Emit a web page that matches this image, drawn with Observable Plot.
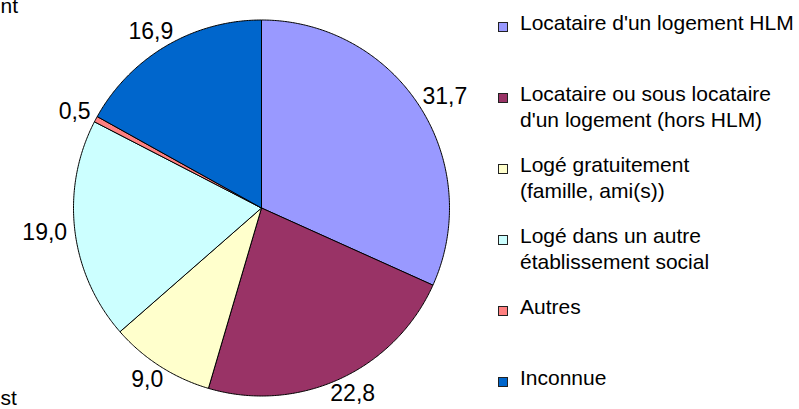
<!DOCTYPE html>
<html>
<head>
<meta charset="utf-8">
<script src="https://cdn.jsdelivr.net/npm/d3@7"></script>
<script src="https://cdn.jsdelivr.net/npm/@observablehq/plot@0.6"></script>
<style>
  html, body { margin: 0; padding: 0; background: #fff; }
  #wrap { position: relative; width: 799px; height: 409px; overflow: hidden; font-family: "Liberation Sans", Arial, sans-serif; }
  #chart { position: absolute; left: 0; top: 0; }
  #legend { position: absolute; left: 497px; top: 10px; }
  .item { height: 71px; position: relative; padding-left: 23px; }
  .item .sw { position: absolute; left: 1px; top: 12px; width: 8px; height: 8px; border: 1px solid #222; }
  .item .tx { font-size: 21px; line-height: 26px; color: #000; white-space: nowrap; }
</style>
</head>
<body>
<div id="wrap"><div id="chart"></div><div id="legend"></div></div>
<script>
// ---- data ----
const categories = [
  "Locataire d'un logement HLM",
  "Locataire ou sous locataire d'un logement (hors HLM)",
  "Logé gratuitement (famille, ami(s))",
  "Logé dans un autre établissement social",
  "Autres",
  "Inconnue"
];
const legendLines = [
  ["Locataire d'un logement HLM"],
  ["Locataire ou sous locataire", "d'un logement (hors HLM)"],
  ["Logé gratuitement", "(famille, ami(s))"],
  ["Logé dans un autre", "établissement social"],
  ["Autres"],
  ["Inconnue"]
];
const values = [31.7, 22.8, 9.0, 19.0, 0.5, 16.9];
const colors = ["#9999FF", "#993366", "#FFFFCC", "#CCFFFF", "#FF8080", "#0066CC"];
const cutTexts = ["nt", "st"];

// ---- layout ----
const W = 799, H = 409;
const cx = 261, cy = 207.5, R = 188;
const labelFont = 23, labelGap = 8;

const fmt = v => v.toFixed(1).replace(".", ",");
const arcs = d3.pie().sort(null).value(d => d)(values);
const pt = (a, r) => [cx + r * Math.sin(a), cy - r * Math.cos(a)];

const sliceRows = [];
arcs.forEach((a, i) => {
  const cat = categories[i];
  sliceRows.push({cat, x: cx, y: cy});
  const n = Math.max(2, Math.ceil((a.endAngle - a.startAngle) / (Math.PI / 360)));
  for (let k = 0; k <= n; k++) {
    const ang = a.startAngle + (a.endAngle - a.startAngle) * k / n;
    const [x, y] = pt(ang, R);
    sliceRows.push({cat, x, y});
  }
  sliceRows.push({cat, x: cx, y: cy});
});

const labelRows = arcs.map((a, i) => {
  const mid = (a.startAngle + a.endAngle) / 2;
  const ux = Math.sin(mid), uy = -Math.cos(mid);
  const text = fmt(values[i]);
  const w = (text.length - 1) * 0.556 * labelFont + 0.278 * labelFont;
  const h = 0.72 * labelFont;
  return {
    text,
    x: cx + (R + labelGap) * ux + ux * w / 2,
    y: cy + (R + labelGap) * uy + uy * h / 2
  };
});

const chart = Plot.plot({
  width: W, height: H,
  margin: 0,
  x: {domain: [0, W], range: [0, W], axis: null},
  y: {domain: [0, H], range: [0, H], axis: null},
  color: {domain: categories, range: colors},
  style: {fontFamily: "'Liberation Sans', Arial, sans-serif", background: "white"},
  marks: [
    Plot.line(sliceRows, {x: "x", y: "y", z: "cat", fill: "cat", stroke: "#000", strokeWidth: 1, strokeLinejoin: "round", curve: "linear"}),
    Plot.text(labelRows, {x: "x", y: "y", text: "text", fontSize: labelFont, fill: "#000", textAnchor: "middle", lineAnchor: "middle"}),
    Plot.text([cutTexts[0]], {frameAnchor: "top-left", text: d => d, fontSize: 21, textAnchor: "start", lineAnchor: "middle", dy: 6, fill: "#000"}),
    Plot.text([cutTexts[1]], {frameAnchor: "bottom-left", text: d => d, fontSize: 21, textAnchor: "start", lineAnchor: "middle", dy: -11, fill: "#000"})
  ]
});
document.getElementById("chart").appendChild(chart);

// ---- legend from the Plot color scale ----
const colorScale = chart.scale("color");
const legend = document.getElementById("legend");
colorScale.domain.forEach((cat, i) => {
  const item = document.createElement("div");
  item.className = "item";
  const sw = document.createElement("div");
  sw.className = "sw";
  sw.style.background = colorScale.range[i];
  item.appendChild(sw);
  legendLines[i].forEach(line => {
    const t = document.createElement("div");
    t.className = "tx";
    t.textContent = line;
    item.appendChild(t);
  });
  legend.appendChild(item);
});
</script>
</body>
</html>
